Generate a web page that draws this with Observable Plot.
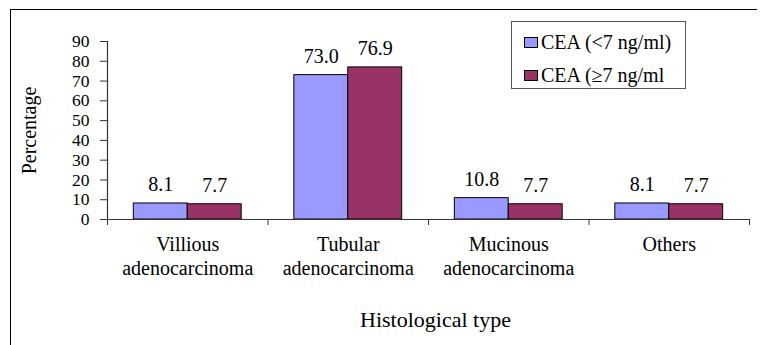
<!DOCTYPE html>
<html>
<head>
<meta charset="utf-8">
<script src="https://cdn.jsdelivr.net/npm/d3@7"></script>
<script src="https://cdn.jsdelivr.net/npm/@observablehq/plot@0.6"></script>
<style>
  html, body { margin: 0; padding: 0; background: #fff; }
  #wrap { position: relative; width: 760px; height: 345px; overflow: hidden; font-family: "Liberation Serif", "Times New Roman", serif; }
  #chart svg, #chart svg text { font-family: "Liberation Serif", "Times New Roman", serif !important; }
  #border { position: absolute; left: 10px; top: 9px; width: 747px; height: 340px; border-top: 1.5px solid #000; border-left: 1.5px solid #000; box-sizing: border-box; pointer-events: none; }
  #legend { position: absolute; left: 511px; top: 21px; width: 175px; height: 68px; border: 1.2px solid #555; box-sizing: border-box; background: #fff; }
  .row { position: absolute; left: 12px; display: flex; align-items: center; font-size: 20px; color: #000; white-space: nowrap; }
  .sw { width: 14px; height: 11px; border: 1px solid #000; box-sizing: border-box; margin-right: 3px; }
</style>
</head>
<body>
<div id="wrap">
  <div id="chart"></div>
  <div id="border"></div>
  <div id="legend"></div>
</div>
<script>
// Histological type categories and CEA group percentages
const categories = ["Villious\nadenocarcinoma", "Tubular\nadenocarcinoma", "Mucinous\nadenocarcinoma", "Others"];
const seriesNames = ["CEA (<7 ng/ml)", "CEA (\u22657 ng/ml"];
const ceaBelow7 = [8.1, 73.0, 10.8, 8.1];
const ceaAbove7 = [7.7, 76.9, 7.7, 7.7];
const yTicks = [0, 10, 20, 30, 40, 50, 60, 70, 80, 90];
const seriesColors = ["#9999FF", "#993366"];

// grouped-bar layout within each category slot (fractions of one slot)
const barFrac = 0.336;
const groupStart = (1 - 2 * barFrac) / 2;

const rows = [];
categories.forEach((c, i) => {
  [ceaBelow7, ceaAbove7].forEach((vals, s) => {
    const x1 = i + groupStart + s * barFrac;
    rows.push({category: c, series: seriesNames[s], value: vals[i], x1, x2: x1 + barFrac});
  });
});

const serif = "Liberation Serif";

const chart = Plot.plot({
  width: 760,
  height: 345,
  marginLeft: 107,
  marginRight: 11,
  marginTop: 41,
  marginBottom: 126,
  style: {fontFamily: serif, fontSize: "20px", color: "#000", background: "transparent"},
  x: {domain: [0, categories.length], axis: null},
  y: {domain: [0, 90], axis: null},
  color: {domain: seriesNames, range: seriesColors},
  marks: [
    Plot.rectY(rows, {x1: "x1", x2: "x2", y: "value", fill: "series", stroke: "#000", strokeWidth: 1}),
    Plot.text(rows, {x: d => (d.x1 + d.x2) / 2, y: "value", text: d => d.value.toFixed(1), lineAnchor: "bottom", dy: -12, fill: "#000", fontFamily: serif, fontSize: 20}),
    // y axis
    Plot.ruleX([0], {stroke: "#333", strokeWidth: 1.2}),
    Plot.axisY({ticks: yTicks, tickSize: 7, tickPadding: 11, label: null, stroke: "#333", fill: "#000", fontFamily: serif, fontSize: 17.5}),
    // x axis: line, slot boundary ticks, category labels
    Plot.ruleY([0], {stroke: "#333", strokeWidth: 1.2}),
    Plot.axisX({ticks: d3.range(categories.length + 1), tickSize: 6, tickFormat: () => "", label: null, stroke: "#333"}),
    Plot.axisX({ticks: categories.map((c, i) => i + 0.5), tickSize: 0, tickPadding: 14, lineHeight: 1.2,
      tickFormat: t => categories[Math.floor(t)], label: null, fill: "#000", fontFamily: serif, fontSize: 20}),
    // axis titles
    Plot.text(["Percentage"], {frameAnchor: "left", textAnchor: "middle", rotate: -90, dx: -78, fontSize: 20, fill: "#000", fontFamily: serif}),
    Plot.text(["Histological type"], {frameAnchor: "bottom", textAnchor: "middle", dy: 107, dx: 7, fontSize: 22, fill: "#000", fontFamily: serif})
  ]
});
document.getElementById("chart").appendChild(chart);

// legend box
const legend = document.getElementById("legend");
seriesNames.forEach((name, s) => {
  const row = document.createElement("div");
  row.className = "row";
  row.style.top = (s === 0 ? 9 : 42) + "px";
  const sw = document.createElement("div");
  sw.className = "sw";
  sw.style.background = seriesColors[s];
  const label = document.createElement("span");
  label.textContent = name;
  row.appendChild(sw);
  row.appendChild(label);
  legend.appendChild(row);
});
</script>
</body>
</html>
